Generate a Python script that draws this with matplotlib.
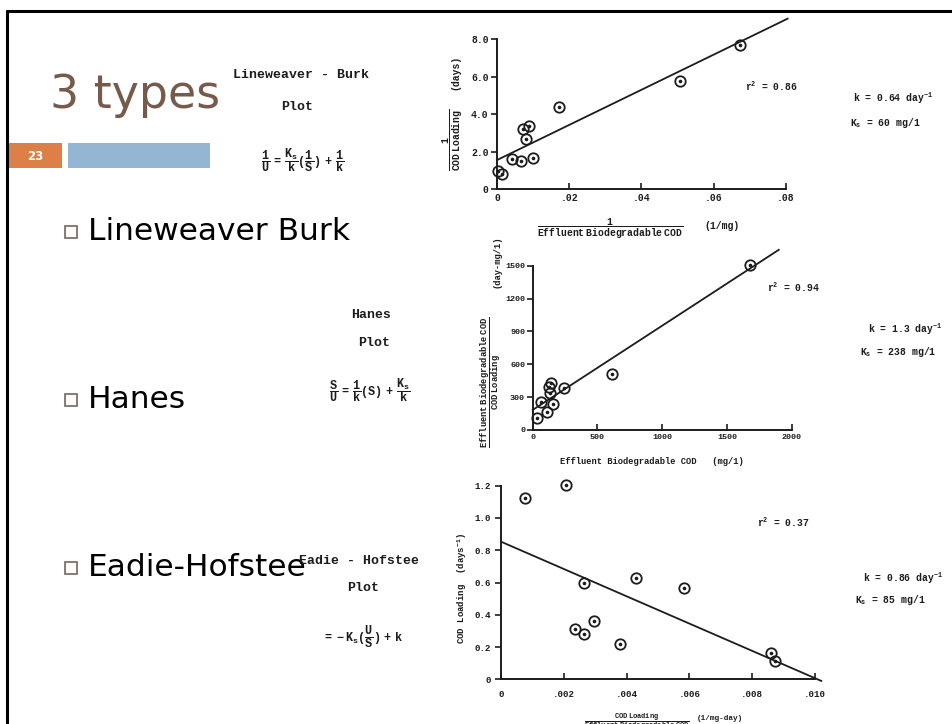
import matplotlib.pyplot as plt
from matplotlib.patches import Rectangle

# Lineweaver-Burk plot (1/U vs 1/S)
lb_x = [0.0004, 0.0014, 0.0041, 0.0067, 0.0072, 0.0080, 0.0090, 0.0101, 0.0172, 0.0507, 0.0673]
lb_y = [0.95, 0.82, 1.60, 1.51, 3.22, 2.67, 3.40, 1.69, 4.41, 5.78, 7.70]
lb_fit_x = [0.0, 0.0805]
lb_fit_y = [1.56, 9.10]
lb_xticks = [0, 0.02, 0.04, 0.06, 0.08]
lb_xticklabels = ['0', '.02', '.04', '.06', '.08']
lb_yticks = [0, 2, 4, 6, 8]
lb_yticklabels = ['0', '2.0', '4.0', '6.0', '8.0']

# Hanes plot (S/U vs S)
ha_x = [31, 64, 108, 123, 133, 144, 159, 241, 610, 1677]
ha_y = [106, 259, 167, 389, 335, 432, 234, 380, 508, 1503]
ha_fit_x = [0, 1900]
ha_fit_y = [183, 1645]
ha_xticks = [0, 500, 1000, 1500, 2000]
ha_yticks = [0, 300, 600, 900, 1200, 1500]

# Eadie-Hofstee plot (U vs U/S)
eh_x = [0.00076, 0.00207, 0.00236, 0.00265, 0.00265, 0.00296, 0.00379, 0.00431, 0.00583, 0.00859, 0.00874]
eh_y = [1.122, 1.202, 0.310, 0.595, 0.283, 0.362, 0.219, 0.628, 0.564, 0.161, 0.116]
eh_fit_x = [0.0, 0.0102]
eh_fit_y = [0.853, -0.010]
eh_xticks = [0, 0.002, 0.004, 0.006, 0.008, 0.010]
eh_xticklabels = ['0', '.002', '.004', '.006', '.008', '.010']
eh_yticks = [0, 0.2, 0.4, 0.6, 0.8, 1.0, 1.2]
eh_yticklabels = ['0', '0.2', '0.4', '0.6', '0.8', '1.0', '1.2']

bullets = ['Lineweaver Burk', 'Hanes', 'Eadie-Hofstee']

W, H = 953, 724
INK = '#1c1c1c'
MONO = 'Liberation Mono'

plt.rcParams['mathtext.fontset'] = 'custom'
plt.rcParams['mathtext.rm'] = 'Liberation Mono:bold'
plt.rcParams['mathtext.it'] = 'Liberation Mono:bold'
plt.rcParams['mathtext.bf'] = 'Liberation Mono:bold'

fig = plt.figure(figsize=(W / 100, H / 100), dpi=100)
fig.patch.set_facecolor('white')

# background axes in pixel coordinates for the slide parts
bg = fig.add_axes([0, 0, 1, 1])
bg.set_xlim(0, W)
bg.set_ylim(H, 0)
bg.axis('off')

bg.plot([7, 7], [10, H], color='black', lw=2.2, solid_capstyle='butt')
bg.plot([6, W], [10.5, 10.5], color='black', lw=2.2, solid_capstyle='butt')

bg.text(50, 95, '3 types', fontsize=33, color='#765b4d', va='center', ha='left',
        family='DejaVu Sans')
bg.add_patch(Rectangle((8, 143), 54, 25, color='#dd8047', lw=0))
bg.add_patch(Rectangle((68, 143), 142, 25, color='#94b6d2', lw=0))
bg.text(35, 156, '23', color='white', fontsize=8.5, fontweight='bold', ha='center', va='center')

for label, yb in zip(bullets, [232, 400, 568]):
    bg.add_patch(Rectangle((65, yb - 6), 12, 12, fill=False, ec='#7a6558', lw=1.2))
    bg.text(88, yb, label, fontsize=22.5, color='black', va='center', ha='left',
            family='DejaVu Sans')


def scan_text(x, y, s, size=9.5, **kw):
    kw.setdefault('ha', 'center')
    kw.setdefault('va', 'center')
    bg.text(x, y, s, fontsize=size, family=MONO, fontweight='bold', color=INK, **kw)


# formula blocks on the left
scan_text(301, 75, 'Lineweaver - Burk')
scan_text(297, 107, 'Plot')
scan_text(303, 160, r'$\dfrac{1}{U}\ =\ \dfrac{K_s}{k}(\dfrac{1}{S})\ +\ \dfrac{1}{k}$', size=8.5)
scan_text(371, 315, 'Hanes')
scan_text(374, 343, 'Plot')
scan_text(370, 390, r'$\dfrac{S}{U}\ =\ \dfrac{1}{k}(S)\ +\ \dfrac{K_s}{k}$', size=8.5)
scan_text(359, 561, 'Eadie - Hofstee')
scan_text(363, 588, 'Plot')
scan_text(363, 637, r'$=\ -K_s(\dfrac{U}{S})\ +\ k$', size=8.5)


def place(px, xv, py, yv, xlim, ylim):
    # px/xv and py/yv: two known pixel positions and their data values
    sx = (px[1] - px[0]) / (xv[1] - xv[0])
    sy = (py[1] - py[0]) / (yv[1] - yv[0])
    left = px[0] + (xlim[0] - xv[0]) * sx
    right = px[0] + (xlim[1] - xv[0]) * sx
    bot = py[0] + (ylim[0] - yv[0]) * sy
    top = py[0] + (ylim[1] - yv[0]) * sy
    ax = fig.add_axes([left / W, 1 - bot / H, (right - left) / W, (bot - top) / H])
    ax.set_xlim(xlim)
    ax.set_ylim(ylim)
    ax.patch.set_alpha(0)
    for side in ['top', 'right']:
        ax.spines[side].set_visible(False)
    for side in ['left', 'bottom']:
        ax.spines[side].set_linewidth(1.4)
        ax.spines[side].set_color(INK)
        ax.spines[side].set_position(('data', 0))
    return ax


def style(ax, xt, xl, yt, yl, size=7, xpad=3, ypad=2):
    ax.set_xticks(xt)
    ax.set_xticklabels(xl)
    ax.set_yticks(yt)
    ax.set_yticklabels(yl)
    ax.spines['bottom'].set_bounds(xt[0], xt[-1])
    ax.spines['left'].set_bounds(yt[0], yt[-1])
    ax.tick_params(axis='x', direction='in', length=4, width=1.2, color=INK, pad=xpad)
    ax.tick_params(axis='y', direction='out', length=4, width=1.2, color=INK, pad=ypad)
    for t in ax.get_xticklabels() + ax.get_yticklabels():
        t.set_fontfamily(MONO)
        t.set_fontweight('bold')
        t.set_fontsize(size)
        t.set_color(INK)


def points(ax, x, y):
    ax.plot(x, y, 'o', mfc='none', mec=INK, ms=7.5, mew=1.3, clip_on=False)
    ax.plot(x, y, 'o', color=INK, ms=1.6, clip_on=False)


# --- Lineweaver-Burk
ax1 = place((497, 785.8), (0, 0.08), (189.3, 39.3), (0, 8), (-0.002, 0.086), (-0.5, 10))
ax1.plot(lb_fit_x, lb_fit_y, color=INK, lw=1.3)
points(ax1, lb_x, lb_y)
style(ax1, lb_xticks, lb_xticklabels, lb_yticks, lb_yticklabels)

scan_text(453, 140, r'$\dfrac{1}{\mathrm{COD\ Loading}}$', size=7, rotation=90)
scan_text(455, 72, '(days)', size=7, rotation=90)
scan_text(610, 229, r'$\dfrac{1}{\mathrm{Effluent\ Biodegradable\ COD}}$', size=7)
scan_text(722, 226, '(1/mg)', size=7)
scan_text(745, 86, r'r$^2$ = 0.86', size=7, ha='left')
scan_text(853, 98, r'k = 0.64 day$^{-1}$', size=7, ha='left')
scan_text(850, 123, r'K$_s$ = 60 mg/1', size=7, ha='left')

# --- Hanes
ax2 = place((532.7, 791.7), (0, 2000), (430, 265.7), (0, 1500), (-60, 2050), (-80, 1700))
ax2.plot(ha_fit_x, ha_fit_y, color=INK, lw=1.3)
points(ax2, ha_x, ha_y)
style(ax2, ha_xticks, [str(v) for v in ha_xticks], ha_yticks, [str(v) for v in ha_yticks],
      size=6, ypad=1.5)

scan_text(491, 382, r'$\dfrac{\mathrm{Effluent\ Biodegradable\ COD}}{\mathrm{COD\ Loading}}$',
          size=6.3, rotation=90)
scan_text(497, 262, '(day-mg/1)', size=6.3, rotation=90)
scan_text(652, 462, 'Effluent Biodegradable COD   (mg/1)', size=6.3)
scan_text(767, 287, r'r$^2$ = 0.94', size=7, ha='left')
scan_text(868, 329, r'k = 1.3 day$^{-1}$', size=7, ha='left')
scan_text(860, 352, r'K$_s$ = 238 mg/1', size=7, ha='left')

# --- Eadie-Hofstee
ax3 = place((501, 815), (0, 0.010), (679.3, 485.7), (0, 1.2), (-0.0004, 0.0103), (-0.1, 1.25))
ax3.plot(eh_fit_x, eh_fit_y, color=INK, lw=1.3, clip_on=False)
points(ax3, eh_x, eh_y)
style(ax3, eh_xticks, eh_xticklabels, eh_yticks, eh_yticklabels, size=6.6, xpad=8, ypad=3)

scan_text(462, 588, r'COD Loading  (days$^{-1}$)', size=6.5, rotation=90)
scan_text(637, 722, r'$\dfrac{\mathrm{COD\ Loading}}{\mathrm{Effluent\ Biodegradable\ COD}}$', size=5)
scan_text(720, 719, '(1/mg-day)', size=5.5)
scan_text(757, 522, r'r$^2$ = 0.37', size=7, ha='left')
scan_text(863, 578, r'k = 0.86 day$^{-1}$', size=7, ha='left')
scan_text(855, 600, r'K$_s$ = 85 mg/1', size=7, ha='left')

fig.savefig('out.png', dpi=100)
